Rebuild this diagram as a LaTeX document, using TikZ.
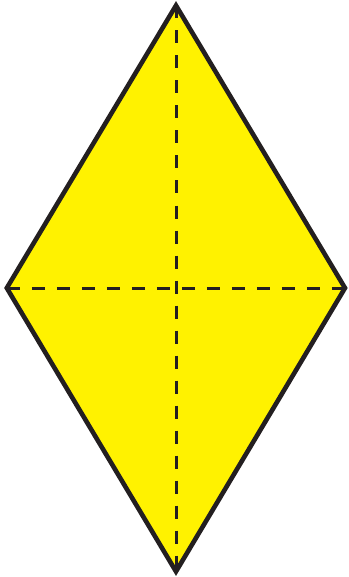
\documentclass[tikz,border=0pt]{standalone}
\definecolor{rhfill}{HTML}{FFF200}
\definecolor{rhline}{HTML}{231F20}
\begin{document}
\begin{tikzpicture}[x=1pt,y=-1pt,
  outline/.style={draw=rhline,line width=4.6pt,fill=rhfill,line join=miter},
  axis/.style={draw=rhline,line width=3pt,dash pattern=on 13pt off 12pt}]
\useasboundingbox (0,0) rectangle (348,577);
\coordinate (t) at (176,5.5);
\coordinate (l) at (6.8,288);
\coordinate (r) at (345,288);
\coordinate (b) at (176,571.5);
\path[outline] (t) -- (r) -- (b) -- (l) -- cycle;
\draw[axis] (t) -- (b);
\draw[axis] (l) -- (r);
\end{tikzpicture}
\end{document}
